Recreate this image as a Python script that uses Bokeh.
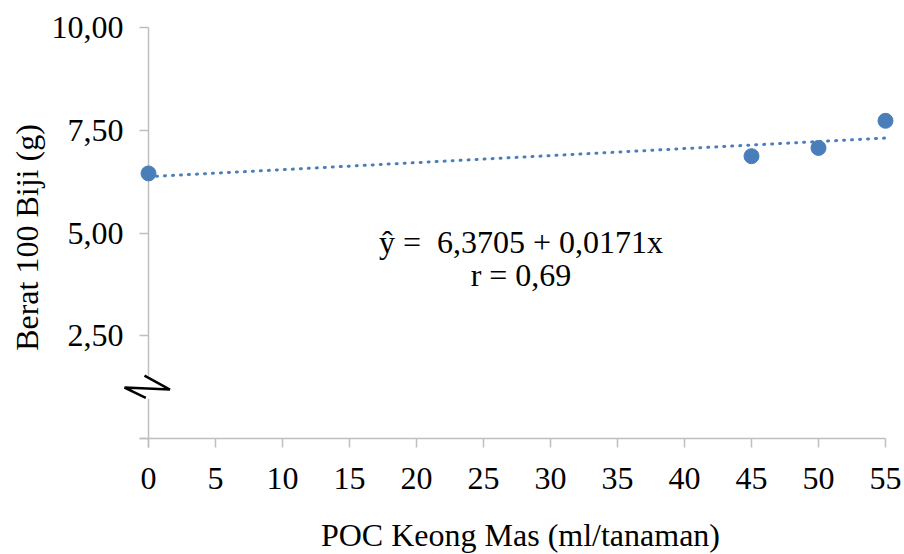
import math
from bokeh.plotting import figure
from bokeh.models import Range1d, FixedTicker, Label, BoxAnnotation
from bokeh.embed import file_html
from bokeh.resources import INLINE

# data
poc = [0, 45, 50, 55]
berat = [6.45, 6.87, 7.07, 7.73]
intercept = 6.3705
slope = 0.0171
x_ticks = [0, 5, 10, 15, 20, 25, 30, 35, 40, 45, 50, 55]
y_ticks = [0, 2.5, 5, 7.5, 10]
y_tick_labels = ["", "2,50", "5,00", "7,50", "10,00"]
equation_text = "ŷ =\u00a0 6,3705 + 0,0171x"
r_text = "r = 0,69"
x_title = "POC Keong Mas (ml/tanaman)"
y_title = "Berat 100 Biji (g)"

FONT = "Liberation Serif"
BLUE = "#4A7EBB"
GREY = "#BFBFBF"

p = figure(width=904, height=554, output_backend="svg", toolbar_location=None,
           x_range=Range1d(-11.045, 56.418), y_range=Range1d(-2.822, 10.657),
           min_border_left=0, min_border_right=0, min_border_top=0, min_border_bottom=0)
p.outline_line_color = None
p.grid.visible = False

# x axis
xa = p.xaxis[0]
xa.fixed_location = 0
xa.ticker = FixedTicker(ticks=x_ticks)
xa.axis_line_color = None
xa.major_tick_line_color = GREY
xa.major_tick_line_width = 1.5
xa.major_tick_in = 0
xa.major_tick_out = 9
xa.minor_tick_line_color = None
xa.major_label_text_font = FONT
xa.major_label_text_font_size = "32px"
xa.major_label_text_color = "black"
xa.major_label_standoff = 20

# y axis
ya = p.yaxis[0]
ya.fixed_location = 0
ya.ticker = FixedTicker(ticks=y_ticks)
ya.major_label_overrides = {t: lab for t, lab in zip(y_ticks, y_tick_labels)}
ya.axis_line_color = None
ya.major_tick_line_color = GREY
ya.major_tick_line_width = 1.5
ya.major_tick_in = 0
ya.major_tick_out = 9
ya.minor_tick_line_color = None
ya.major_label_text_font = FONT
ya.major_label_text_font_size = "32px"
ya.major_label_text_color = "black"
ya.major_label_standoff = 16

# axis lines
p.segment(x0=[-0.67], y0=[0], x1=[x_ticks[-1]], y1=[0], line_color=GREY, line_width=1.5)
p.segment(x0=[0], y0=[-0.219], x1=[0], y1=[y_ticks[-1]], line_color=GREY, line_width=1.5)

# axis break
p.add_layout(BoxAnnotation(left=-0.4, right=0.4, bottom=0.97, top=1.53,
                           fill_color="white", fill_alpha=1, line_color=None))
brk = p.line(x=[-0.3, 1.6, -1.79, -0.2], y=[1.53, 1.19, 1.24, 0.99],
             line_color="black", line_width=2.5)
brk.level = "overlay"

# trend line
tx = [0, 55]
ty = [intercept + slope * v for v in tx]
p.line(x=tx, y=ty, line_color=BLUE, line_width=3, line_dash="1 7", line_cap="round")

# points
p.scatter(x=poc, y=berat, size=15, fill_color=BLUE, line_color=BLUE)

# equation
p.add_layout(Label(x=27.8, y=4.78, text=equation_text, text_font=FONT, text_font_size="32px",
                   text_align="center", text_baseline="middle", text_color="black"))
p.add_layout(Label(x=27.8, y=3.99, text=r_text, text_font=FONT, text_font_size="32px",
                   text_align="center", text_baseline="middle", text_color="black"))

# axis titles
p.add_layout(Label(x=27.76, y=-2.336, text=x_title, text_font=FONT, text_font_size="32px",
                   text_align="center", text_baseline="middle", text_color="black"))
p.add_layout(Label(x=-9.1, y=4.89, text=y_title, text_font=FONT, text_font_size="32px",
                   text_align="center", text_baseline="middle", text_color="black",
                   angle=math.pi / 2))

open("out.html", "w").write(file_html(p, INLINE))
